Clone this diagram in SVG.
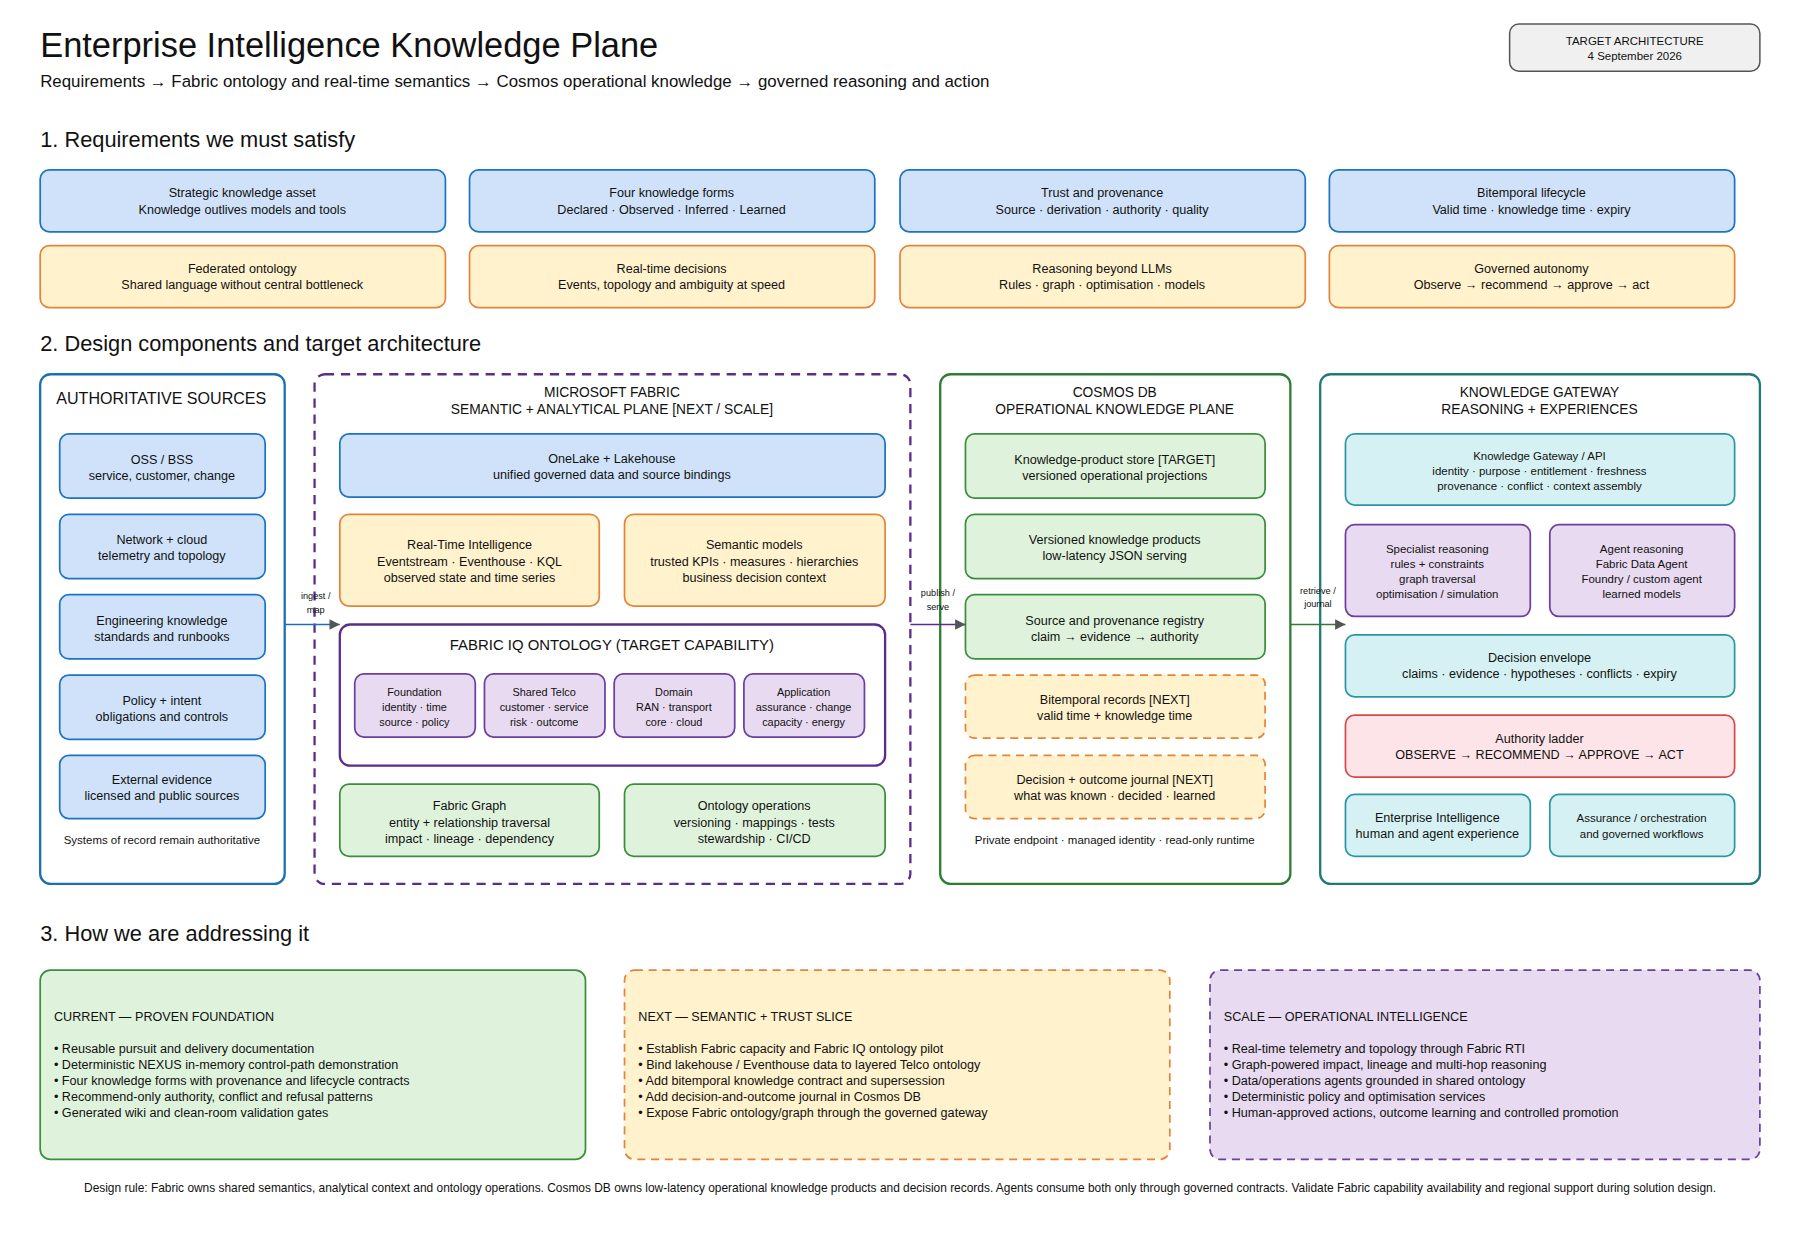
<svg xmlns="http://www.w3.org/2000/svg" width="1800" height="1240" viewBox="0 0 1800 1240">
<style>
text{font-family:"Liberation Sans",Arial,sans-serif;fill:#111}
.c{text-anchor:middle}
.t11{font-size:11px}.t10{font-size:10px}.t9{font-size:9.5px}.t8{font-size:8px}
.blue{fill:#cfe2f9;stroke:#1c74c4;stroke-width:1.5}
.or{fill:#fff2cc;stroke:#e4843a;stroke-width:1.5}
.ord{fill:#fff2cc;stroke:#e4843a;stroke-width:1.5;stroke-dasharray:7 5}
.gr{fill:#dff3dc;stroke:#3b8e3b;stroke-width:1.5}
.pu{fill:#e8daf0;stroke:#6b3fa0;stroke-width:1.5}
.pud{fill:#e8daf0;stroke:#6b3fa0;stroke-width:1.5;stroke-dasharray:7 5}
.te{fill:#d6f1f3;stroke:#2a98a3;stroke-width:1.5}
.pk{fill:#fde4e8;stroke:#d64a4a;stroke-width:1.5}
.cont{fill:#fff;stroke-width:2}
</style>
<defs><marker id="ah" viewBox="0 0 10 10" refX="10" refY="5" markerWidth="9" markerHeight="9" orient="auto" markerUnits="userSpaceOnUse"><path d="M0,0L10,5L0,10z" fill="#555"/></marker></defs>
<rect width="1800" height="1240" fill="#fff"/>
<g transform="scale(1.148)">
<text x="35" y="50" style="font-size:30px">Enterprise Intelligence Knowledge Plane</text>
<text x="35" y="76" style="font-size:14.7px">Requirements → Fabric ontology and real-time semantics → Cosmos operational knowledge → governed reasoning and action</text>
<g id="target"><rect x="1315" y="21" width="218" height="41" rx="8" fill="#f0f0f0" stroke="#555" stroke-width="1.3"/><text class="c t10" x="1424" y="39">TARGET ARCHITECTURE</text><text class="c t10" x="1424" y="52">4 September 2026</text></g>

<text x="35" y="128" style="font-size:19px">1. Requirements we must satisfy</text>
<g id="r1"><rect class="blue" x="35" y="148" width="353" height="54" rx="8"/><text class="c t11" x="211" y="172">Strategic knowledge asset</text><text class="c t11" x="211" y="186">Knowledge outlives models and tools</text></g>
<g id="r2"><rect class="blue" x="409" y="148" width="353" height="54" rx="8"/><text class="c t11" x="585" y="172">Four knowledge forms</text><text class="c t11" x="585" y="186">Declared · Observed · Inferred · Learned</text></g>
<g id="r3"><rect class="blue" x="784" y="148" width="353" height="54" rx="8"/><text class="c t11" x="960" y="172">Trust and provenance</text><text class="c t11" x="960" y="186">Source · derivation · authority · quality</text></g>
<g id="r4"><rect class="blue" x="1158" y="148" width="353" height="54" rx="8"/><text class="c t11" x="1334" y="172">Bitemporal lifecycle</text><text class="c t11" x="1334" y="186">Valid time · knowledge time · expiry</text></g>
<g id="r5"><rect class="or" x="35" y="214" width="353" height="54" rx="8"/><text class="c t11" x="211" y="238">Federated ontology</text><text class="c t11" x="211" y="252">Shared language without central bottleneck</text></g>
<g id="r6"><rect class="or" x="409" y="214" width="353" height="54" rx="8"/><text class="c t11" x="585" y="238">Real-time decisions</text><text class="c t11" x="585" y="252">Events, topology and ambiguity at speed</text></g>
<g id="r7"><rect class="or" x="784" y="214" width="353" height="54" rx="8"/><text class="c t11" x="960" y="238">Reasoning beyond LLMs</text><text class="c t11" x="960" y="252">Rules · graph · optimisation · models</text></g>
<g id="r8"><rect class="or" x="1158" y="214" width="353" height="54" rx="8"/><text class="c t11" x="1334" y="238">Governed autonomy</text><text class="c t11" x="1334" y="252">Observe → recommend → approve → act</text></g>

<text x="35" y="306" style="font-size:19px">2. Design components and target architecture</text>

<g id="auth"><rect class="cont" x="35" y="326" width="213" height="444" rx="9" stroke="#1c6fb5"/><text x="49" y="352" style="font-size:14px">AUTHORITATIVE SOURCES</text>
<text class="c t10" x="141" y="735">Systems of record remain authoritative</text></g>
<g id="oss"><rect class="blue" x="52" y="378" width="179" height="56" rx="8"/><text class="c t11" x="141" y="404">OSS / BSS</text><text class="c t11" x="141" y="418">service, customer, change</text></g>
<g id="net"><rect class="blue" x="52" y="448" width="179" height="56" rx="8"/><text class="c t11" x="141" y="474">Network + cloud</text><text class="c t11" x="141" y="488">telemetry and topology</text></g>
<g id="eng"><rect class="blue" x="52" y="518" width="179" height="56" rx="8"/><text class="c t11" x="141" y="544">Engineering knowledge</text><text class="c t11" x="141" y="558">standards and runbooks</text></g>
<g id="pol"><rect class="blue" x="52" y="588" width="179" height="56" rx="8"/><text class="c t11" x="141" y="614">Policy + intent</text><text class="c t11" x="141" y="628">obligations and controls</text></g>
<g id="ext"><rect class="blue" x="52" y="658" width="179" height="55" rx="8"/><text class="c t11" x="141" y="683">External evidence</text><text class="c t11" x="141" y="697">licensed and public sources</text></g>

<g id="fabric"><rect class="cont" x="274" y="326" width="519" height="444" rx="9" stroke="#5a2d8c" stroke-dasharray="8 6"/><text class="c" x="533" y="346" style="font-size:12px">MICROSOFT FABRIC</text><text class="c" x="533" y="361" style="font-size:12px">SEMANTIC + ANALYTICAL PLANE [NEXT / SCALE]</text></g>
<g id="onelake"><rect class="blue" x="296" y="378" width="475" height="55" rx="8"/><text class="c t11" x="533" y="403">OneLake + Lakehouse</text><text class="c t11" x="533" y="417">unified governed data and source bindings</text></g>
<g id="rti"><rect class="or" x="296" y="448" width="226" height="80" rx="8"/><text class="c t11" x="409" y="478">Real-Time Intelligence</text><text class="c t11" x="409" y="493">Eventstream · Eventhouse · KQL</text><text class="c t11" x="409" y="507">observed state and time series</text></g>
<g id="sem"><rect class="or" x="544" y="448" width="227" height="80" rx="8"/><text class="c t11" x="657" y="478">Semantic models</text><text class="c t11" x="657" y="493">trusted KPIs · measures · hierarchies</text><text class="c t11" x="657" y="507">business decision context</text></g>
<g id="iq"><rect x="296" y="544" width="475" height="123" rx="9" fill="#fff" stroke="#5a2d8c" stroke-width="2"/><text class="c" x="533" y="566" style="font-size:13px">FABRIC IQ ONTOLOGY (TARGET CAPABILITY)</text></g>
<g id="found"><rect class="pu" x="309" y="587" width="105" height="55" rx="8"/><text class="c t9" x="361" y="606">Foundation</text><text class="c t9" x="361" y="619">identity · time</text><text class="c t9" x="361" y="632">source · policy</text></g>
<g id="telco"><rect class="pu" x="422" y="587" width="105" height="55" rx="8"/><text class="c t9" x="474" y="606">Shared Telco</text><text class="c t9" x="474" y="619">customer · service</text><text class="c t9" x="474" y="632">risk · outcome</text></g>
<g id="domain"><rect class="pu" x="535" y="587" width="105" height="55" rx="8"/><text class="c t9" x="587" y="606">Domain</text><text class="c t9" x="587" y="619">RAN · transport</text><text class="c t9" x="587" y="632">core · cloud</text></g>
<g id="app"><rect class="pu" x="648" y="587" width="105" height="55" rx="8"/><text class="c t9" x="700" y="606">Application</text><text class="c t9" x="700" y="619">assurance · change</text><text class="c t9" x="700" y="632">capacity · energy</text></g>
<g id="graph"><rect class="gr" x="296" y="683" width="226" height="63" rx="8"/><text class="c t11" x="409" y="706">Fabric Graph</text><text class="c t11" x="409" y="720">entity + relationship traversal</text><text class="c t11" x="409" y="734">impact · lineage · dependency</text></g>
<g id="ops"><rect class="gr" x="544" y="683" width="227" height="63" rx="8"/><text class="c t11" x="657" y="706">Ontology operations</text><text class="c t11" x="657" y="720">versioning · mappings · tests</text><text class="c t11" x="657" y="734">stewardship · CI/CD</text></g>

<g id="cosmos"><rect class="cont" x="819" y="326" width="305" height="444" rx="9" stroke="#2e7d32"/><text class="c" x="971" y="346" style="font-size:12px">COSMOS DB</text><text class="c" x="971" y="361" style="font-size:12px">OPERATIONAL KNOWLEDGE PLANE</text><text class="c t10" x="971" y="735">Private endpoint · managed identity · read-only runtime</text></g>
<g id="kps"><rect class="gr" x="841" y="378" width="261" height="56" rx="8"/><text class="c t11" x="971" y="404">Knowledge-product store [TARGET]</text><text class="c t11" x="971" y="418">versioned operational projections</text></g>
<g id="vkp"><rect class="gr" x="841" y="448" width="261" height="56" rx="8"/><text class="c t11" x="971" y="474">Versioned knowledge products</text><text class="c t11" x="971" y="488">low-latency JSON serving</text></g>
<g id="spr"><rect class="gr" x="841" y="518" width="261" height="56" rx="8"/><text class="c t11" x="971" y="544">Source and provenance registry</text><text class="c t11" x="971" y="558">claim → evidence → authority</text></g>
<g id="bit"><rect class="ord" x="841" y="588" width="261" height="55" rx="8"/><text class="c t11" x="971" y="613">Bitemporal records [NEXT]</text><text class="c t11" x="971" y="627">valid time + knowledge time</text></g>
<g id="dec"><rect class="ord" x="841" y="658" width="261" height="55" rx="8"/><text class="c t11" x="971" y="683">Decision + outcome journal [NEXT]</text><text class="c t11" x="971" y="697">what was known · decided · learned</text></g>

<g id="gw"><rect class="cont" x="1150" y="326" width="383" height="444" rx="9" stroke="#1f7a78"/><text class="c" x="1341" y="346" style="font-size:12px">KNOWLEDGE GATEWAY</text><text class="c" x="1341" y="361" style="font-size:12px">REASONING + EXPERIENCES</text></g>
<g id="api"><rect class="te" x="1172" y="378" width="339" height="62" rx="8"/><text class="c t10" x="1341" y="401">Knowledge Gateway / API</text><text class="c t10" x="1341" y="414">identity · purpose · entitlement · freshness</text><text class="c t10" x="1341" y="427">provenance · conflict · context assembly</text></g>
<g id="spec"><rect class="pu" x="1172" y="457" width="161" height="80" rx="8"/><text class="c t10" x="1252" y="482">Specialist reasoning</text><text class="c t10" x="1252" y="495">rules + constraints</text><text class="c t10" x="1252" y="508">graph traversal</text><text class="c t10" x="1252" y="521">optimisation / simulation</text></g>
<g id="agent"><rect class="pu" x="1350" y="457" width="161" height="80" rx="8"/><text class="c t10" x="1430" y="482">Agent reasoning</text><text class="c t10" x="1430" y="495">Fabric Data Agent</text><text class="c t10" x="1430" y="508">Foundry / custom agent</text><text class="c t10" x="1430" y="521">learned models</text></g>
<g id="env"><rect class="te" x="1172" y="553" width="339" height="54" rx="8"/><text class="c t11" x="1341" y="577">Decision envelope</text><text class="c t11" x="1341" y="591">claims · evidence · hypotheses · conflicts · expiry</text></g>
<g id="ladder"><rect class="pk" x="1172" y="623" width="339" height="54" rx="8"/><text class="c t11" x="1341" y="647">Authority ladder</text><text class="c t11" x="1341" y="661">OBSERVE → RECOMMEND → APPROVE → ACT</text></g>
<g id="ei"><rect class="te" x="1172" y="692" width="161" height="54" rx="8"/><text class="c t11" x="1252" y="716">Enterprise Intelligence</text><text class="c t11" x="1252" y="730">human and agent experience</text></g>
<g id="assur"><rect class="te" x="1350" y="692" width="161" height="54" rx="8"/><text class="c t10" x="1430" y="716">Assurance / orchestration</text><text class="c t10" x="1430" y="730">and governed workflows</text></g>

<g id="connectors" fill="none" stroke-width="1.5">
<path d="M248,544H296" stroke="#1c6fb5" marker-end="url(#ah)"/>
<path d="M793,544H841" stroke="#5a2d8c" marker-end="url(#ah)"/>
<path d="M1124,544H1172" stroke="#2e7d32" marker-end="url(#ah)"/>
<text class="c t8" x="275" y="522" stroke="none">ingest /</text><text class="c t8" x="275" y="534" stroke="none">map</text>
<text class="c t8" x="817" y="519" stroke="none">publish /</text><text class="c t8" x="817" y="531" stroke="none">serve</text>
<text class="c t8" x="1148" y="517" stroke="none">retrieve /</text><text class="c t8" x="1148" y="529" stroke="none">journal</text>
</g>

<text x="35" y="820" style="font-size:19px">3. How we are addressing it</text>
<g id="cur"><rect class="gr" x="35" y="845" width="475" height="165" rx="9"/><text class="t11" x="47" y="889">CURRENT — PROVEN FOUNDATION</text>
<text class="t11" x="47" y="917">• Reusable pursuit and delivery documentation</text><text class="t11" x="47" y="931">• Deterministic NEXUS in-memory control-path demonstration</text><text class="t11" x="47" y="945">• Four knowledge forms with provenance and lifecycle contracts</text><text class="t11" x="47" y="959">• Recommend-only authority, conflict and refusal patterns</text><text class="t11" x="47" y="973">• Generated wiki and clean-room validation gates</text></g>
<g id="next"><rect class="ord" x="544" y="845" width="475" height="165" rx="9"/><text class="t11" x="556" y="889">NEXT — SEMANTIC + TRUST SLICE</text>
<text class="t11" x="556" y="917">• Establish Fabric capacity and Fabric IQ ontology pilot</text><text class="t11" x="556" y="931">• Bind lakehouse / Eventhouse data to layered Telco ontology</text><text class="t11" x="556" y="945">• Add bitemporal knowledge contract and supersession</text><text class="t11" x="556" y="959">• Add decision-and-outcome journal in Cosmos DB</text><text class="t11" x="556" y="973">• Expose Fabric ontology/graph through the governed gateway</text></g>
<g id="scale"><rect class="pud" x="1054" y="845" width="479" height="165" rx="9"/><text class="t11" x="1066" y="889">SCALE — OPERATIONAL INTELLIGENCE</text>
<text class="t11" x="1066" y="917">• Real-time telemetry and topology through Fabric RTI</text><text class="t11" x="1066" y="931">• Graph-powered impact, lineage and multi-hop reasoning</text><text class="t11" x="1066" y="945">• Data/operations agents grounded in shared ontology</text><text class="t11" x="1066" y="959">• Deterministic policy and optimisation services</text><text class="t11" x="1066" y="973">• Human-approved actions, outcome learning and controlled promotion</text></g>
<text class="c" x="784" y="1038" style="font-size:10.4px">Design rule: Fabric owns shared semantics, analytical context and ontology operations. Cosmos DB owns low-latency operational knowledge products and decision records. Agents consume both only through governed contracts. Validate Fabric capability availability and regional support during solution design.</text>
</g>
</svg>
